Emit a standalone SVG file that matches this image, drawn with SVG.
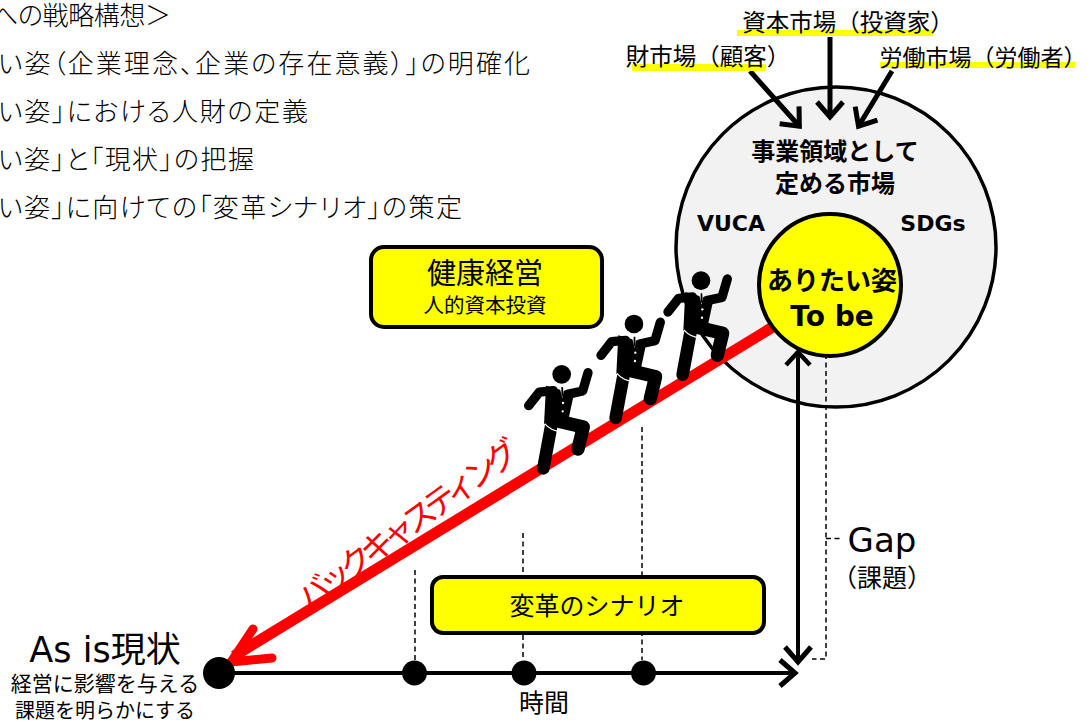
<svg xmlns="http://www.w3.org/2000/svg" xmlns:xlink="http://www.w3.org/1999/xlink" width="1087" height="722" viewBox="0 0 1087 722">
<style>
text{font-family:"DejaVu Sans","Noto Sans CJK JP",sans-serif;fill:#000;text-anchor:middle}
.cjk{font-family:"Noto Sans CJK JP",sans-serif}
.m{font-family:"Noto Sans CJK JP",sans-serif;font-weight:300;font-size:26px;text-anchor:start;font-feature-settings:"palt"}
.box{fill:#ff0;stroke:#000;stroke-width:4}
.dash{fill:none;stroke:#000;stroke-width:1.5;stroke-dasharray:5 3.5}
.ln{fill:none;stroke:#000;stroke-width:4}
.ul{fill:#ff0}
.lim{stroke-linecap:round;stroke-linejoin:round;fill:none;stroke:#000}
</style>
<defs>
<marker id="ah" markerUnits="userSpaceOnUse" markerWidth="30" markerHeight="34" refX="24" refY="17" orient="auto"><path d="M8 4L23 17L8 30" fill="none" stroke="#000" stroke-width="5"/></marker>
<g id="man" transform="translate(510 250) scale(.3333)">
<circle cx="573" cy="92" r="28"/>
<path d="M526 126L610 150L594 224L520 242Z"/>
<path class="lim" stroke-width="28" d="M474 186L506 145L548 141"/>
<path class="lim" stroke-width="28" d="M590 152L636 142L652 87"/>
<path class="lim" stroke-width="40" d="M545 228L638 250L622 316"/>
<path class="lim" stroke-width="38" d="M541 250L518 374"/>
<path d="M566 128h16l-7 36z" fill="#fff"/><path d="M572 130h5l1 24l-3 6l-3-6z"/>
<circle cx="577" cy="178" r="3.500" fill="#fff"/><circle cx="576" cy="203" r="3.500" fill="#fff"/>
<path d="M522 240Q540 262 572 264" fill="none" stroke="#fff" stroke-width="3.500"/>
</g>
</defs>

<g id="strategy-text">
<text class="m" x="-8" y="25" textLength="179">への戦略構想＞</text>
<text class="m" x="-2" y="73" textLength="532">い姿（企業理念、企業の存在意義）」の明確化</text>
<text class="m" x="-2" y="121" textLength="310">い姿」における人財の定義</text>
<text class="m" x="-2" y="169" textLength="256">い姿」と「現状」の把握</text>
<text class="m" x="-2" y="217" textLength="464">い姿」に向けての「変革シナリオ」の策定</text>
</g>

<g id="market-circle"><circle cx="836" cy="247" r="160" fill="#f2f2f2" stroke="#000" stroke-width="3.500"/>
<text class="cjk" x="835" y="160" font-size="24" font-weight="700">事業領域として</text>
<text class="cjk" x="835" y="192" font-size="24" font-weight="700">定める市場</text>
<text x="731" y="231" font-size="22" font-weight="700">VUCA</text>
<text x="933" y="231" font-size="22" font-weight="700">SDGs</text>
</g>

<g id="connectors">
<path class="dash" d="M415 570V660"/>
<path class="dash" d="M523 533V660"/>
<path class="dash" d="M642 427V660"/>
<path class="dash" d="M813 350H826V659H812"/>
<path class="dash" d="M826 538.500H840"/>
<path d="M776 325L234 656" fill="none" stroke="#f00" stroke-width="11"/>
<path d="M253 629L231 662L272 658" fill="none" stroke="#f00" stroke-width="9" stroke-linecap="round"/>
<path class="ln" d="M220 673H796" marker-end="url(#ah)"/>
<path class="ln" d="M798 353V663" marker-end="url(#ah)"/>
<path d="M786 365L798 352L810 365" fill="none" stroke="#000" stroke-width="4.500"/>
<path class="ln" style="stroke-width:5" d="M750 71L800 127" marker-end="url(#ah)"/>
<path class="ln" style="stroke-width:5" d="M830 37V118" marker-end="url(#ah)"/>
<path class="ln" style="stroke-width:5" d="M892 71L858 127" marker-end="url(#ah)"/>
</g>

<g id="to-be"><circle cx="830" cy="285" r="71" fill="#ff0" stroke="#000" stroke-width="4"/>
<text class="cjk" x="832" y="290" font-size="26" font-weight="700">ありたい姿</text>
<text x="832" y="326" font-size="28" font-weight="700">To be</text>
</g>

<g id="figures">
<use xlink:href="#man"/>
<use xlink:href="#man" transform="translate(-67 43.300)"/>
<use xlink:href="#man" transform="translate(-139.300 93.700)"/>
</g>

<g id="market-capital"><rect class="ul" x="737" y="30" width="196" height="6"/><text class="cjk" x="848" y="31" font-size="23.500">資本市場（投資家）</text></g>
<g id="market-goods"><rect class="ul" x="632" y="64" width="134" height="7"/><text class="cjk" x="708" y="65" font-size="23.500">財市場（顧客）</text></g>
<g id="market-labor"><rect class="ul" x="880" y="62" width="195" height="6"/><text class="cjk" x="983" y="66" font-size="23">労働市場（労働者）</text></g>

<g id="health-box"><rect class="box" x="371" y="247" width="231" height="80" rx="13"/>
<text class="cjk" x="485" y="284" font-size="29">健康経営</text>
<text class="cjk" x="485" y="313" font-size="20.500">人的資本投資</text></g>

<g id="scenario-box"><rect class="box" x="432" y="577" width="332" height="56" rx="11"/>
<text class="cjk" x="597" y="615" font-size="25">変革のシナリオ</text></g>

<g id="points">
<circle cx="219" cy="673" r="16"/><circle cx="414.500" cy="673" r="12.500"/><circle cx="524" cy="673" r="12.500"/><circle cx="643.500" cy="673" r="12.500"/>
</g>

<g id="labels">
<text x="105" y="662" font-size="35">As is<tspan class="cjk">現状</tspan></text>
<text class="cjk" x="105" y="691" font-size="21">経営に影響を与える</text>
<text class="cjk" x="105" y="718" font-size="20">課題を明らかにする</text>
<text class="cjk" x="544" y="712" font-size="25">時間</text>
<text x="882" y="552" font-size="34">Gap</text>
<text class="cjk" x="882" y="587" font-size="25">（課題）</text>
<text class="cjk" transform="translate(415 534) rotate(-36)" font-size="33" style="fill:#f00" textLength="265">バックキャスティング</text>
</g>
</svg>
